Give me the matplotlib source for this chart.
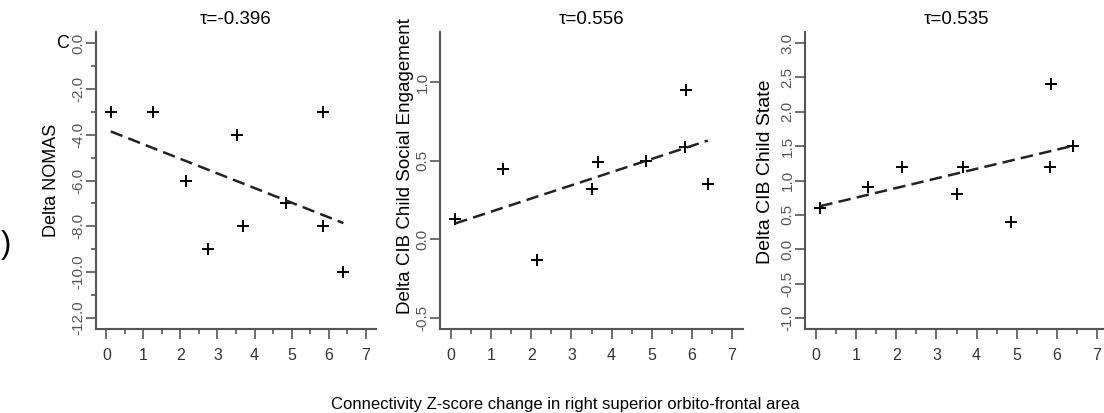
import numpy as np
import matplotlib
matplotlib.use("Agg")
import matplotlib.pyplot as plt
from matplotlib.ticker import MultipleLocator, FormatStrFormatter

plt.rcParams['font.family'] = ['Liberation Sans', 'DejaVu Sans']

# connectivity z-score change (x) for each child
x_nomas = [0.12, 1.25, 2.14, 2.75, 3.52, 3.68, 4.86, 5.84, 5.84, 6.40]
y_nomas = [-3, -3, -6, -9, -4, -8, -7, -3, -8, -10]

x_cib = [0.10, 1.28, 2.13, 3.52, 3.66, 4.85, 5.85, 5.84, 6.40]
y_social = [0.13, 0.45, -0.13, 0.32, 0.49, 0.50, 0.95, 0.59, 0.355]
y_state = [0.60, 0.90, 1.20, 0.80, 1.20, 0.40, 2.40, 1.20, 1.50]

titles = ["τ=-0.396", "τ=0.556", "τ=0.535"]
ylabels = ["Delta NOMAS", "Delta CIB Child Social Engagement", "Delta CIB Child State"]

W, H = 1104, 413
fig = plt.figure(figsize=(W / 100, H / 100), dpi=100)

def px_axes(left, right, top, bottom):
    return fig.add_axes([left / W, 1 - bottom / H, (right - left) / W, (bottom - top) / H])

panels = [
    dict(box=(96, 376, 32, 329), x=x_nomas, y=y_nomas, ylim=(-12, 0), major=2.0, minor=1.0),
    dict(box=(440, 743, 32, 329), x=x_cib, y=y_social, ylim=(-0.5, 1.25), major=0.5, minor=None),
    dict(box=(805, 1108, 32, 329), x=x_cib, y=y_state, ylim=(-1, 3), major=0.5, minor=None),
]
ylab_pos = [(52, 180, 13), (405, 166, 13.5), (765, 172, 14)]

axis_col = '#555555'
for i, p in enumerate(panels):
    ax = px_axes(*p['box'])
    xs = np.array(p['x'])
    ys = np.array(p['y'])
    ax.plot(xs, ys, linestyle='none', marker='+', color='black', markersize=9, markeredgewidth=1.4)
    k, b = np.polyfit(xs, ys, 1)
    xl = np.array([xs.min(), xs.max()])
    ax.plot(xl, k * xl + b, color='#222222', linestyle=(0, (5, 2.5)), linewidth=1.8)

    lo, hi = p['ylim']
    pad = (hi - lo) * 0.04
    ax.set_ylim(lo - pad, hi + pad)
    ax.set_xlim(-0.28, 7.28)

    for s in ['top', 'right']:
        ax.spines[s].set_visible(False)
    for s in ['left', 'bottom']:
        ax.spines[s].set_color(axis_col)
        ax.spines[s].set_linewidth(1.5)

    ax.xaxis.set_major_locator(MultipleLocator(1))
    ax.xaxis.set_minor_locator(MultipleLocator(0.5))
    ax.yaxis.set_major_locator(MultipleLocator(p['major']))
    if p['minor']:
        ax.yaxis.set_minor_locator(MultipleLocator(p['minor']))
    ax.yaxis.set_major_formatter(FormatStrFormatter('%.1f'))
    ax.tick_params(which='major', length=7, width=1.2, color=axis_col)
    ax.tick_params(which='minor', length=3.5, width=1.2, color=axis_col)
    ax.tick_params(axis='x', labelsize=11.5, pad=7, labelcolor='#333333')
    ax.tick_params(axis='y', labelsize=11, pad=0.5, labelcolor='#555555')
    for lab in ax.get_yticklabels():
        lab.set_rotation(90)
        lab.set_va('center')
    ax.set_title(titles[i], fontsize=13.5, pad=6)
    lx, ly, fs = ylab_pos[i]
    fig.text(lx / W, 1 - ly / H, ylabels[i], rotation=90, fontsize=fs,
             ha='center', va='center')

fig.text(63 / W, 1 - 43 / H, "C", fontsize=13, ha='center', va='center')
fig.text(6 / W, 1 - 245 / H, ")", fontsize=22, ha='center', va='center')
fig.text(565 / W, 1 - 404 / H, "Connectivity Z-score change in right superior orbito-frontal area",
         fontsize=12, ha='center', va='center')

fig.savefig("out.png", dpi=100)
